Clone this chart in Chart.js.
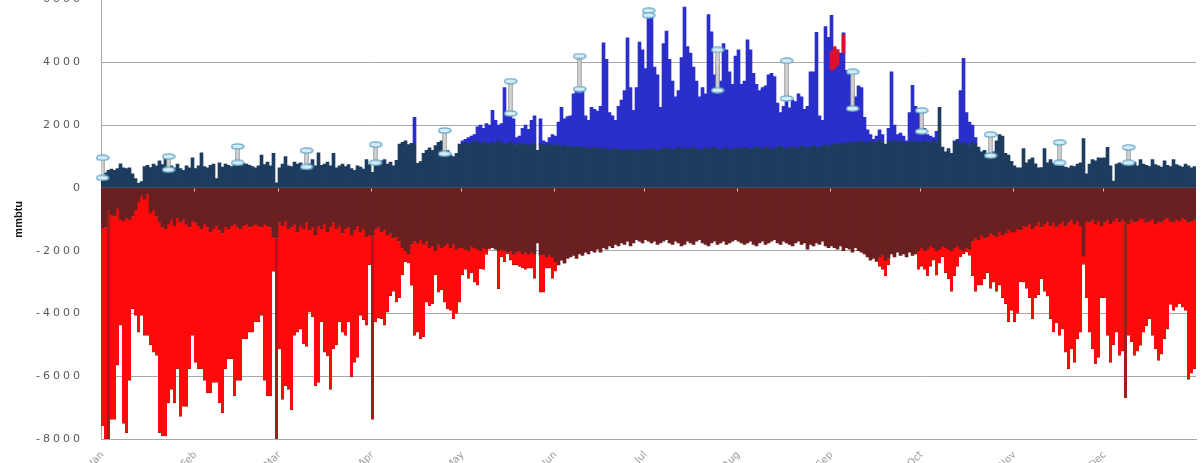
<!DOCTYPE html>
<html lang="en">
<head>
<meta charset="UTF-8">
<title>Daily heating and cooling (mmbtu)</title>
<script src="https://cdn.jsdelivr.net/npm/chart.js"></script>
<style>
  html, body { margin: 0; padding: 0; background: #fff; overflow: hidden; }
  #wrap { position: absolute; left: 0; top: -10px; width: 1205px; height: 474px; }
</style>
</head>
<body>
<div id="wrap"><canvas id="myChart"></canvas></div>
<script>
// month ticks
const monthNames = ['Jan', 'Feb', 'Mar', 'Apr', 'May', 'Jun', 'Jul', 'Aug', 'Sep', 'Oct', 'Nov', 'Dec'];
const monthDays = [31, 28, 31, 30, 31, 30, 31, 31, 30, 31, 30, 31];

// positive side: dark base + blue on top (mmbtu per day)
const navyBase = [
  320, 480, 560, 600, 560, 620, 770, 640, 620, 640, 450, 300, 150, 200, 680, 720, 650, 760, 700, 860, 740, 930, 600, 700, 640, 760, 620, 560, 700, 640, 960,
  620, 700, 1120, 680, 640, 720, 760, 300, 800, 660, 760, 720, 680, 760, 800, 740, 780, 760, 720, 680, 640, 700, 1050, 740, 820, 700, 1100, 160,
  640, 760, 1000, 700, 680, 820, 760, 800, 670, 720, 760, 900, 700, 1120, 720, 760, 820, 700, 1100, 640, 700, 760, 680, 740, 620, 560, 700, 660, 600, 900, 740,
  500, 800, 820, 860, 900, 760, 820, 700, 880, 1400, 1450, 1500, 1380, 1420, 1400, 780, 840, 1100, 1200, 1280, 1200, 1350, 1450, 1500, 1090, 1200, 1050, 1000, 1100, 1400,
  1400, 1450, 1380, 1420, 1500, 1460, 1400, 1480, 1420, 1380, 1450, 1400, 1500, 1440, 1380, 1420, 1460, 1400, 1350, 1420, 1380, 1400, 1360, 1420, 1380, 1200, 1400, 1380, 1340, 1400, 1360,
  1350, 1380, 1320, 1360, 1300, 1340, 1280, 1320, 1300, 1260, 1300, 1280, 1240, 1300, 1260, 1220, 1280, 1240, 1200, 1260, 1220, 1240, 1200, 1180, 1240, 1200, 1220, 1180, 1200, 1240,
  1220, 1200, 1260, 1240, 1180, 1220, 1260, 1280, 1240, 1200, 1260, 1300, 1240, 1280, 1220, 1260, 1300, 1250, 1200, 1240, 1280, 1220, 1260, 1300, 1240, 1200, 1260, 1280, 1220, 1240, 1260,
  1280, 1240, 1300, 1260, 1220, 1280, 1320, 1260, 1240, 1300, 1280, 1220, 1260, 1300, 1340, 1280, 1240, 1300, 1320, 1260, 1280, 1340, 1300, 1260, 1320, 1360, 1300, 1280, 1340, 1380, 1320,
  1360, 1400, 1380, 1420, 1440, 1400, 1460, 1420, 1480, 1440, 1500, 1460, 1420, 1500, 1460, 1480, 1520, 1480, 1400, 1500, 1460, 1520, 1480, 1500, 1460, 1440, 1480, 1500, 1460, 1480,
  1450, 1500, 1480, 1450, 1500, 1480, 2570, 1300, 1150, 1250, 1100, 1450, 1500, 1400, 1450, 1400, 1350, 1450, 1400, 1300, 1150, 1200, 1100, 1050, 1150, 1500, 1700, 1650, 1100, 1050, 850,
  700, 640, 640, 1250, 800, 900, 960, 770, 640, 650, 1250, 800, 900, 780, 820, 880, 700, 660, 640, 700, 680, 760, 800, 1570, 450, 760, 900, 860, 960, 950,
  960, 1290, 700, 220, 760, 800, 760, 780, 800, 760, 820, 700, 900, 760, 720, 680, 900, 740, 700, 660, 860, 720, 680, 900, 740, 700, 660, 760, 700, 640, 680
];
const blueExtra = [
  0, 0, 0, 0, 0, 0, 0, 0, 0, 0, 0, 0, 0, 0, 0, 0, 0, 0, 0, 0, 0, 0, 0, 0, 0, 0, 0, 0, 0, 0, 0,
  0, 0, 0, 0, 0, 0, 0, 0, 0, 0, 0, 0, 0, 0, 0, 0, 0, 0, 0, 0, 0, 0, 0, 0, 0, 0, 0, 0,
  0, 0, 0, 0, 0, 0, 0, 0, 0, 0, 0, 0, 0, 0, 0, 0, 0, 0, 0, 0, 0, 0, 0, 0, 0, 0, 0, 0, 0, 0, 0,
  0, 0, 0, 0, 0, 0, 0, 0, 0, 0, 0, 0, 0, 0, 850, 0, 0, 0, 0, 0, 0, 0, 0, 0, 0, 0, 0, 0, 0, 0,
  100, 100, 220, 230, 200, 490, 600, 420, 630, 620, 1020, 750, 500, 610, 1820, 880, 910, 800, 250, 230, 520, 600, 510, 730, 920, 0, 800, 120, 110, 200, 340,
  300, 720, 1250, 840, 970, 960, 1720, 1780, 1850, 1840, 1000, 870, 1330, 1200, 1190, 1380, 3340, 2860, 1200, 1040, 930, 1360, 1600, 1920, 3540, 2000, 1250, 2020, 3450, 3160,
  2580, 4260, 4240, 2610, 2420, 1350, 3340, 3720, 2860, 2200, 1640, 1800, 2910, 4480, 3280, 3040, 2550, 2150, 1700, 1960, 1720, 4300, 3710, 2300, 2660, 2200, 3340, 3120, 2480, 2060, 2940,
  3120, 2060, 2100, 3460, 3180, 2370, 1980, 1840, 1960, 1950, 2320, 2430, 2290, 1400, 1060, 1320, 1560, 1250, 1480, 1490, 1720, 1560, 1200, 1340, 2380, 2340, 3660, 1020, 810, 3760, 3480,
  4140, 3060, 3020, 2880, 3500, 2350, 2240, 1580, 1420, 1810, 1700, 790, 430, 200, 90, 170, 330, 220, 0, 400, 2240, 480, 220, 250, 190, 60, 920, 1770, 1140, 1020,
  1000, 400, 220, 200, 100, 320, 0, 0, 0, 0, 0, 50, 50, 1700, 2680, 1000, 750, 550, 200, 0, 0, 0, 0, 0, 0, 0, 0, 0, 0, 0, 0,
  0, 0, 0, 0, 0, 0, 0, 0, 0, 0, 0, 0, 0, 0, 0, 0, 0, 0, 0, 0, 0, 0, 0, 0, 0, 0, 0, 0, 0, 0,
  0, 0, 0, 0, 0, 0, 0, 0, 0, 0, 0, 0, 0, 0, 0, 0, 0, 0, 0, 0, 0, 0, 0, 0, 0, 0, 0, 0, 0, 0, 0
];

// negative side: maroon base + red below it
const maroonBase = [
  -1280, -1250, -700, -850, -900, -650, -1000, -1050, -950, -1000, -900, -700, -450, -250, -350, -200, -800, -700, -900, -1100, -1250, -1300, -1150, -1000, -1200, -950, -1100, -1000, -1150, -1250, -1050,
  -1100, -1200, -1300, -1150, -1250, -1400, -1300, -1200, -1350, -1450, -1250, -1300, -1200, -1150, -1250, -1300, -1200, -1150, -1250, -1200, -1150, -1200, -1250, -1150, -1200, -1250, -1550, -1600,
  -1100, -1200, -1050, -1300, -1250, -1150, -1400, -1200, -1300, -1100, -1350, -1250, -1500, -1200, -1300, -1150, -1400, -1250, -1100, -1300, -1200, -1450, -1300, -1250, -1500, -1350, -1200, -1400, -1300, -1550, -1500,
  -1500, -1300, -1250, -1400, -1350, -1500, -1450, -1600, -1550, -1700, -1900, -2000, -2100, -1800, -1700, -1750, -1650, -1800, -1700, -1900, -1850, -2000, -1800, -1900, -1850, -1750, -1900, -1800, -1950, -1900,
  -1900, -1950, -2000, -1850, -1900, -1950, -2000, -1900, -1950, -1900, -1900, -1950, -2000, -1950, -2000, -2050, -2000, -2100, -2050, -2000, -2100, -2050, -2100, -2050, -2100, -1750, -2150, -2100, -2200, -2150, -2200,
  -2350, -2450, -2300, -2400, -2250, -2200, -2150, -2250, -2100, -2150, -2050, -2100, -2000, -2050, -1950, -2050, -1900, -1950, -1850, -1900, -1800, -1850, -1750, -1800, -1700, -1850, -1750, -1650, -1700, -1750,
  -1650, -1700, -1750, -1700, -1800, -1750, -1700, -1650, -1750, -1800, -1700, -1750, -1850, -1800, -1700, -1750, -1800, -1700, -1650, -1750, -1800, -1850, -1750, -1700, -1800, -1750, -1700, -1800, -1750, -1700, -1650,
  -1700, -1750, -1800, -1750, -1700, -1800, -1850, -1750, -1700, -1800, -1750, -1700, -1650, -1750, -1800, -1700, -1750, -1800, -1850, -1750, -1700, -1800, -1750, -1950, -1800, -1850, -1750, -1800, -1700, -1850, -1900,
  -1850, -1900, -1950, -1850, -2000, -1900, -1950, -2050, -1900, -2000, -2050, -2100, -2200, -2300, -2250, -2340, -2200, -2150, -2300, -2250, -2100, -2200, -2050, -2150, -2100, -2200, -2050, -2150, -2100, -2000,
  -1900, -2000, -1950, -1850, -1900, -2000, -1950, -1850, -1900, -1950, -2000, -1900, -1850, -1950, -2000, -1900, -1950, -1700, -1600, -1650, -1500, -1600, -1550, -1450, -1500, -1550, -1400, -1500, -1450, -1350, -1400,
  -1400, -1300, -1350, -1200, -1250, -1150, -1300, -1200, -1100, -1250, -1150, -1050, -1200, -1100, -1250, -1150, -1050, -1200, -1100, -1000, -1150, -1050, -1200, -2170, -1050, -1100, -1000, -1150, -1050, -1200,
  -1100, -1000, -1150, -1050, -950, -1100, -1000, -1050, -1150, -1000, -1100, -1050, -950, -1000, -1100, -1050, -1000, -1150, -1050, -1100, -1000, -950, -1050, -1100, -1000, -1050, -950, -1000, -1100, -1050, -1000
];
const redExtra = [
  -6300, -6750, -7300, -6530, -6480, -5000, -3370, -6450, -6850, -5130, -2950, -3360, -4150, -3810, -4350, -4500, -4200, -4530, -4440, -6700, -6650, -6600, -5700, -5420, -5650, -4820, -6180, -5960, -5810, -4520, -3650,
  -4460, -4570, -4470, -4980, -5280, -5130, -4900, -5000, -5500, -5720, -4520, -4150, -4250, -5480, -4880, -4830, -3610, -3660, -3350, -3400, -3120, -3070, -2810, -4980, -5430, -5380, -1110, -6400,
  -4030, -5540, -5250, -5120, -5820, -3550, -3200, -3300, -3670, -3950, -2610, -2850, -4810, -5000, -2970, -4080, -3950, -5170, -4030, -3700, -3070, -3150, -3400, -3020, -4520, -4210, -4200, -2660, -2900, -2820, -950,
  -5880, -2970, -2900, -2770, -3020, -2460, -1980, -1700, -2090, -1800, -870, -350, -300, -1310, -3000, -2850, -3160, -2950, -1940, -1850, -1850, -770, -1520, -1350, -1790, -2100, -2000, -2370, -2050, -1740,
  -870, -650, -880, -850, -1100, -1150, -570, -700, -170, -50, 0, 0, -1210, -250, -350, -50, -300, -350, -400, -500, -450, -550, -460, -510, -780, 0, -1170, -1220, -360, -410, -680,
  -300, 0, 0, 0, 0, 0, 0, 0, 0, 0, 0, 0, 0, 0, 0, 0, 0, 0, 0, 0, 0, 0, 0, 0, 0, 0, 0, 0, 0, 0,
  0, 0, 0, 0, 0, 0, 0, 0, 0, 0, 0, 0, 0, 0, 0, 0, 0, 0, 0, 0, 0, 0, 0, 0, 0, 0, 0, 0, 0, 0, 0,
  0, 0, 0, 0, 0, 0, 0, 0, 0, 0, 0, 0, 0, 0, 0, 0, 0, 0, 0, 0, 0, 0, 0, 0, 0, 0, 0, 0, 0, 0, 0,
  0, 0, 0, 0, 0, 0, 0, 0, 0, 0, 0, 0, 0, 0, 0, 0, -300, -450, -500, -200, 0, 0, 0, 0, 0, 0, 0, 0, 0, -600,
  -600, -600, -850, -650, -400, -780, -450, -350, -800, -950, -1300, -900, -650, -250, -100, -150, -200, -1100, -1700, -1450, -1600, -1300, -1150, -1750, -1500, -1750, -1700, -2000, -2250, -2920, -2500,
  -2870, -2700, -1640, -1800, -1950, -2350, -2870, -2300, -2300, -1650, -2150, -2400, -2970, -3490, -3050, -3550, -3450, -4030, -4670, -4130, -4410, -3760, -3400, -270, -2450, -3500, -4130, -4450, -4350, -2300,
  -2400, -3700, -4410, -3950, -3650, -4240, -4200, -5630, -3550, -3900, -4240, -4150, -4070, -3600, -3300, -3120, -3700, -3980, -4450, -4200, -3810, -3550, -2660, -2800, -2800, -2650, -2850, -2900, -5000, -4850, -4770
];
// single-day spikes that show as thin dark-red lines
const darkRedDays = [2, 58, 90, 341];

// capsule markers (day of year, low end, high end)
const capsuleDay  = [0, 22, 45, 68, 91, 114, 136, 159, 182, 205, 228, 250, 273, 296, 319, 342];
const capsuleLow  = [320, 580, 800, 670, 800, 1090, 2370, 3150, 5500, 3110, 2850, 2530, 1800, 1030, 800, 800];
const capsuleHigh = [960, 1000, 1320, 1190, 1380, 1830, 3400, 4200, 5650, 4400, 4050, 3700, 2470, 1700, 1450, 1290];

// small red marks in early September
const redMarkDay  = [243, 244, 245, 247];
const redMarkLow  = [3750, 3800, 3900, 4300];
const redMarkHigh = [4350, 4500, 4400, 4880];

[navyBase, blueExtra, maroonBase, redExtra].forEach((a, i) => {
  if (a.length !== 365) throw new Error('series ' + i + ' has ' + a.length + ' values');
});

// one label per day, month name on the first day
const dayLabels = [];
const monthStart = [];
monthNames.forEach((m, i) => {
  monthStart.push(dayLabels.length);
  for (let d = 1; d <= monthDays[i]; d++) dayLabels.push(d === 1 ? m : '');
});

const capStem = dayLabels.map(() => null);
const capLowPts = dayLabels.map(() => null);
const capHighPts = dayLabels.map(() => null);
capsuleDay.forEach((d, i) => {
  capStem[d] = [capsuleLow[i], capsuleHigh[i]];
  capLowPts[d] = capsuleLow[i];
  capHighPts[d] = capsuleHigh[i];
});
const redMarks = dayLabels.map(() => null);
redMarkDay.forEach((d, i) => { redMarks[d] = [redMarkLow[i], redMarkHigh[i]]; });

// ellipse used as point style for capsule ends
function ellipseImage() {
  const c = document.createElement('canvas');
  c.width = 14; c.height = 7;
  const g = c.getContext('2d');
  g.beginPath();
  g.ellipse(7, 3.5, 6, 2.6, 0, 0, Math.PI * 2);
  g.fillStyle = '#d4ecf6';
  g.fill();
  g.lineWidth = 1.4;
  g.strokeStyle = '#69a9c9';
  g.stroke();
  return c;
}
const capImg = ellipseImage();

const nz = v => (v === 0 ? null : v);
const gridGrey = '#a8a8a8';

// little month ticks sitting under the zero line
const monthTicks = {
  id: 'monthTicks',
  afterDatasetsDraw(chart) {
    const {ctx, scales: {x, y}} = chart;
    const y0 = Math.round(y.getPixelForValue(0)) + 0.5;
    const half = (x.getPixelForValue(1) - x.getPixelForValue(0)) / 2;
    ctx.save();
    ctx.strokeStyle = '#c8c8c8';
    ctx.lineWidth = 1;
    monthStart.forEach(d => {
      if (d === 0) return;
      const px = Math.round(x.getPixelForValue(d) - half) + 0.5;
      ctx.beginPath();
      ctx.moveTo(px, y0);
      ctx.lineTo(px, y0 + 3);
      ctx.stroke();
    });
    ctx.restore();
  }
};

const ctx = document.getElementById('myChart').getContext('2d');
const chart = new Chart(ctx, {
  type: 'bar',
  data: {
    labels: dayLabels,
    datasets: [
      { type: 'line', data: capLowPts, stack: 'lo', showLine: false, pointStyle: capImg, pointRadius: 4 },
      { type: 'line', data: capHighPts, stack: 'hi', showLine: false, pointStyle: capImg, pointRadius: 4 },
      { data: capStem, stack: 'cap', grouped: false, barThickness: 4, backgroundColor: '#d2d2d2',
        borderColor: '#909090', borderWidth: 1, borderSkipped: false },
      { data: redMarks, stack: 'rm', grouped: false, barThickness: 3, backgroundColor: '#e0102a', borderWidth: 0 },
      { data: navyBase.map(nz), stack: 'main', backgroundColor: '#1d3c5e' },
      { data: blueExtra.map(nz), stack: 'main', backgroundColor: '#2a2ecb' },
      { data: maroonBase.map(nz), stack: 'main', backgroundColor: '#6a2020' },
      { data: redExtra.map(nz), stack: 'main',
        backgroundColor: c => (darkRedDays.includes(c.dataIndex) ? '#a31c1c' : '#ff0a0a'),
        borderColor: '#a81818', borderWidth: { top: 0, left: 0, right: 0, bottom: 1 } }
    ]
  },
  options: {
    responsive: true,
    maintainAspectRatio: false,
    animation: false,
    events: [],
    layout: { padding: 0 },
    datasets: {
      bar: { barPercentage: 1, categoryPercentage: 1, borderWidth: 0 }
    },
    plugins: {
      legend: { display: false },
      tooltip: { enabled: false }
    },
    scales: {
      x: {
        stacked: true,
        grid: { display: false },
        border: { display: true, color: gridGrey },
        ticks: {
          autoSkip: false, maxRotation: 45, minRotation: 45, padding: 2,
          color: '#9a9a9a', font: { family: 'DejaVu Sans', size: 10 }
        },
        afterFit: s => { s.height = 25; }
      },
      y: {
        stacked: true,
        z: 1,
        min: -8000, max: 6000,
        grid: { color: gridGrey, drawTicks: true, tickLength: 15, tickColor: 'rgba(0,0,0,0)' },
        border: { display: true, color: gridGrey },
        ticks: {
          stepSize: 2000, padding: 3, color: '#585858',
          font: { family: 'DejaVu Sans', size: 11 },
          callback: v => String(v)
        },
        title: {
          display: true, text: 'mmbtu', color: '#111',
          font: { family: 'Liberation Sans', size: 11, weight: 'bold' },
          padding: { top: 12, bottom: 0 }
        },
        afterFit: s => { s.width = 101; }
      }
    }
  },
  plugins: [monthTicks]
});

// wide-set tick numbers like the original
const yScale = chart.scales.y;
const baseDrawLabels = yScale.drawLabels;
yScale.drawLabels = function (area) {
  this.ctx.letterSpacing = '3px';
  baseDrawLabels.call(this, area);
  this.ctx.letterSpacing = '0px';
};
chart.draw();
</script>
</body>
</html>
